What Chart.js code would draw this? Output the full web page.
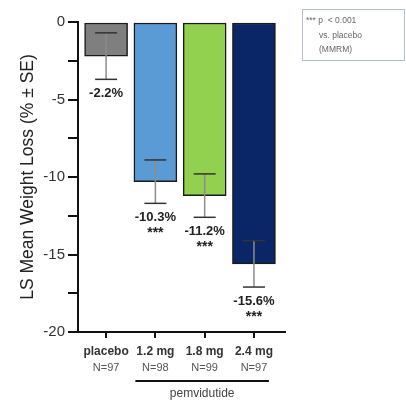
<!DOCTYPE html>
<html>
<head>
<meta charset="utf-8">
<script src="https://cdn.jsdelivr.net/npm/chart.js@4.4.1/dist/chart.umd.min.js"></script>
<style>
  html, body { margin: 0; padding: 0; background: #ffffff; }
  #chart { display: block; }
</style>
</head>
<body>
<canvas id="chart" width="406" height="400"></canvas>
<script>
// Treatment groups and results (LS mean % change in body weight)
const categories = ['placebo', '1.2 mg', '1.8 mg', '2.4 mg'];
const sampleSizes = ['N=97', 'N=98', 'N=99', 'N=97'];
const meanLoss = [-2.2, -10.3, -11.2, -15.6];
const standardErrors = [1.5, 1.4, 1.4, 1.5];
const significance = ['', '***', '***', '***'];
const barColors = ['#7f7f7f', '#5b9bd5', '#92d050', '#0a2667'];
const groupLabel = 'pemvidutide';
const yTitle = 'LS Mean Weight Loss (% \u00B1 SE)';
const footnoteLines = ['*** p  < 0.001', 'vs. placebo', '(MMRM)'];

const FONT = '"Liberation Sans", Arial, sans-serif';

function strokeLine(ctx, x1, y1, x2, y2) {
  ctx.beginPath();
  ctx.moveTo(x1, y1);
  ctx.lineTo(x2, y2);
  ctx.stroke();
}

// Error bars, value labels, axis captions and footnote box
const annotations = {
  id: 'annotations',
  afterDatasetsDraw(chart) {
    const { ctx, scales: { x, y } } = chart;
    ctx.save();
    meanLoss.forEach((m, i) => {
      const cx = x.getPixelForValue(i);
      const yHi = y.getPixelForValue(m + standardErrors[i]);
      const yLo = y.getPixelForValue(m - standardErrors[i]);
      ctx.strokeStyle = '#8c8c8c';
      ctx.lineWidth = 1.5;
      strokeLine(ctx, cx, yHi, cx, yLo);
      ctx.strokeStyle = '#333333';
      ctx.lineWidth = 1.5;
      strokeLine(ctx, cx - 11, yHi, cx + 11, yHi);
      strokeLine(ctx, cx - 11, yLo, cx + 11, yLo);

      ctx.fillStyle = '#222222';
      ctx.textAlign = 'center';
      ctx.textBaseline = 'middle';
      ctx.font = 'bold 13px ' + FONT;
      ctx.fillText(m.toFixed(1) + '%', cx, yLo + 14);
      if (significance[i]) {
        ctx.textBaseline = 'alphabetic';
        ctx.font = 'bold 14px ' + FONT;
        ctx.fillText(significance[i], cx, yLo + 34);
      }
    });
    ctx.restore();
  },
  afterDraw(chart) {
    const { ctx, scales: { x }, chartArea } = chart;
    ctx.save();
    ctx.textAlign = 'center';
    ctx.textBaseline = 'middle';

    // category labels under the x axis
    categories.forEach((c, i) => {
      const cx = x.getPixelForValue(i);
      ctx.fillStyle = '#333333';
      ctx.font = 'bold 12px ' + FONT;
      ctx.fillText(c, cx, chartArea.bottom + 20);
      ctx.fillStyle = '#555555';
      ctx.font = '11px ' + FONT;
      ctx.fillText(sampleSizes[i], cx, chartArea.bottom + 36);
    });

    // bracket grouping the active doses
    const bx1 = x.getPixelForValue(1) - 20;
    const bx2 = x.getPixelForValue(3) + 15;
    const by = chartArea.bottom + 49;
    ctx.strokeStyle = '#111111';
    ctx.lineWidth = 2;
    strokeLine(ctx, bx1, by, bx2, by);
    ctx.fillStyle = '#444444';
    ctx.font = '12px ' + FONT;
    ctx.fillText(groupLabel, (bx1 + bx2) / 2, by + 13);

    // y axis title
    ctx.save();
    ctx.translate(33, (chartArea.top + chartArea.bottom) / 2);
    ctx.rotate(-Math.PI / 2);
    ctx.textBaseline = 'alphabetic';
    ctx.fillStyle = '#222222';
    ctx.font = '17.5px ' + FONT;
    ctx.fillText(yTitle, 0, 0);
    ctx.restore();

    // footnote box
    ctx.strokeStyle = '#b4bfd0';
    ctx.lineWidth = 1;
    ctx.strokeRect(302.5, 9.5, 102, 51);
    ctx.fillStyle = '#666666';
    ctx.font = '8.5px ' + FONT;
    ctx.textAlign = 'left';
    ctx.fillText(footnoteLines[0], 306, 21);
    ctx.fillText(footnoteLines[1], 319, 36);
    ctx.fillText(footnoteLines[2], 319, 50);
    ctx.restore();
  }
};

new Chart(document.getElementById('chart'), {
  type: 'bar',
  data: {
    datasets: [{
      data: meanLoss.map((v, i) => ({ x: i, y: v })),
      backgroundColor: barColors,
      borderColor: '#1a1a1a',
      borderWidth: 1.5,
      borderSkipped: false,
      barThickness: 43
    }]
  },
  options: {
    responsive: false,
    animation: false,
    layout: { padding: { top: 22, right: 121, bottom: 0, left: 0 } },
    plugins: { legend: { display: false }, tooltip: { enabled: false } },
    scales: {
      x: {
        type: 'linear',
        offset: false,
        min: -0.57,
        max: 3.63,
        afterBuildTicks: (scale) => { scale.ticks = categories.map((_, i) => ({ value: i })); },
        afterFit: (scale) => { scale.height = 68; },
        ticks: { callback: () => '' },
        grid: { offset: false, drawOnChartArea: false, drawTicks: true, tickLength: 6, color: '#111111', lineWidth: 2 },
        border: { color: '#111111', width: 2 }
      },
      y: {
        min: -20,
        max: 0,
        afterFit: (scale) => { scale.width = 78; },
        ticks: {
          stepSize: 2.5,
          padding: 3,
          color: '#333333',
          font: { family: FONT, size: 15 },
          callback: (v) => (v % 5 === 0 ? String(v) : '')
        },
        grid: { drawOnChartArea: false, drawTicks: true, tickLength: 10, color: '#111111', lineWidth: 2 },
        border: { color: '#111111', width: 2 }
      }
    }
  },
  plugins: [annotations]
});
</script>
</body>
</html>
